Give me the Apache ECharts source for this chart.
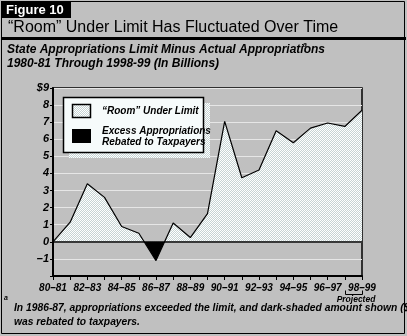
<!DOCTYPE html>
<html><head><meta charset="utf-8">
<script src="https://cdn.jsdelivr.net/npm/echarts@6/dist/echarts.min.js"></script>
<style>html,body{margin:0;padding:0;background:#c0c0c0}#c{width:407px;height:336px}</style>
</head><body><div id="c"></div>
<script>
var years = ['80–81','81–82','82–83','83–84','84–85','85–86','86–87','87–88','88–89','89–90','90–91','91–92','92–93','93–94','94–95','95–96','96–97','97–98','98–99'];
var roomValues = [0, 1.15, 3.4, 2.6, 0.9, 0.5, -1.1, 1.1, 0.25, 1.65, 7.05, 3.75, 4.2, 6.5, 5.8, 6.65, 6.95, 6.75, 7.7];
var yMin = -2, yMax = 9, yStep = 1;

var F = 'Liberation Sans';
var pc = document.createElement('canvas'); pc.width = 2; pc.height = 2;
var px = pc.getContext('2d');
px.fillStyle = '#ffffff'; px.fillRect(0,0,2,2);
px.fillStyle = '#c6d4d4'; px.fillRect(1,0,1,1); px.fillRect(0,1,1,1);
var pattern = {image: pc, repeat: 'repeat'};

var chart = echarts.init(document.getElementById('c'));
var bi = {fontFamily: F, fontWeight: 'bold', fontStyle: 'italic', fill: '#000'};
function txt(x, y, s, size, extra) {
  var st = Object.assign({}, bi, {x: x, y: y, text: s, fontSize: size, verticalAlign: 'middle'}, extra || {});
  return {type: 'text', style: st, z: 10};
}
chart.setOption({
  animation: false,
  backgroundColor: '#c0c0c0',
  grid: {left: 53, right: 45, top: 88, bottom: 60, show: true, borderColor: '#000', borderWidth: 1.5, backgroundColor: 'transparent'},
  xAxis: {
    type: 'category', data: years, boundaryGap: false,
    axisLine: {onZero: false, lineStyle: {color: '#000', width: 2}},
    axisTick: {show: true, interval: 0, length: 4, lineStyle: {color: '#000'}},
    axisLabel: {interval: 1, color: '#000', fontFamily: F, fontWeight: 'bold', fontStyle: 'italic', fontSize: 10, margin: 7},
    splitLine: {show: false}
  },
  yAxis: {
    type: 'value', min: yMin, max: yMax, interval: yStep,
    axisLine: {show: true, lineStyle: {color: '#000', width: 2}},
    axisTick: {show: true, length: 3, lineStyle: {color: '#000'}},
    axisLabel: {color: '#000', fontFamily: F, fontWeight: 'bold', fontStyle: 'italic', fontSize: 11, margin: 4,
      formatter: function (v) { if (v === yMin) return ''; if (v === yMax) return '$' + v; return v < 0 ? '–' + Math.abs(v) : String(v); }},
    splitLine: {show: true, lineStyle: {color: '#e6e6e6', width: 1}}
  },
  visualMap: {show: false, type: 'piecewise', dimension: 1, seriesIndex: 1,
    pieces: [{gte: -50, lt: 0, color: '#000'}, {gte: 0, lte: 50, color: 'rgba(0,0,0,0)'}]},
  series: [
    {type: 'line', data: roomValues, symbol: 'none', z: 2,
      lineStyle: {color: '#000', width: 1.2}, areaStyle: {color: pattern, opacity: 1}},
    {type: 'line', data: roomValues, symbol: 'none', z: 3,
      lineStyle: {width: 0, opacity: 0}, areaStyle: {opacity: 1},
      markLine: {silent: true, symbol: 'none', label: {show: false},
        lineStyle: {color: '#000', width: 1.5, type: 'solid'}, data: [{yAxis: 0}]}}
  ],
  graphic: [
    {type: 'rect', shape: {x: 1.5, y: 1.5, width: 403, height: 332}, style: {fill: 'none', stroke: '#000', lineWidth: 1}, z: 1},
    {type: 'rect', shape: {x: 1, y: 1, width: 70, height: 17}, style: {fill: '#000'}, z: 10},
    txt(6, 10, 'Figure 10', 13, {fill: '#fff', fontStyle: 'normal'}),
    txt(8, 28, '“Room” Under Limit Has Fluctuated Over Time', 16, {fontWeight: 'normal', fontStyle: 'normal'}),
    {type: 'rect', shape: {x: 1, y: 37, width: 405, height: 3}, style: {fill: '#000'}, z: 10},
    txt(7, 50, 'State Appropriations Limit Minus Actual Appropriations', 12),
    txt(303, 45, 'a', 7),
    txt(7, 64, '1980-81 Through 1998-99 (In Billions)', 12),
    {type: 'rect', shape: {x: 69, y: 103, width: 141, height: 55}, style: {fill: pattern}, z: 10},
    {type: 'rect', shape: {x: 63.5, y: 97.5, width: 140, height: 55}, style: {fill: '#f6fbfb', stroke: '#000', lineWidth: 1.5}, z: 11},
    {type: 'rect', shape: {x: 72.5, y: 104.5, width: 18, height: 13}, style: {fill: pattern, stroke: '#000', lineWidth: 1.5}, z: 12},
    {type: 'rect', shape: {x: 72, y: 129, width: 19, height: 14}, style: {fill: '#000'}, z: 12},
    Object.assign(txt(102, 111, '“Room” Under Limit', 10), {z: 12}),
    Object.assign(txt(102, 131, 'Excess Appropriations', 10), {z: 12}),
    Object.assign(txt(102, 142, 'Rebated to Taxpayers', 10), {z: 12}),
    {type: 'polyline', shape: {points: [[345.5, 290.5], [345.5, 294.5], [362.5, 294.5], [362.5, 290.5]]}, style: {stroke: '#000', lineWidth: 1, fill: 'none'}, z: 10},
    txt(356, 299.5, 'Projected', 8.5, {align: 'center'}),
    txt(4, 298, 'a', 7),
    txt(14, 308, 'In 1986-87, appropriations exceeded the limit, and dark-shaded amount shown ($1.1 billion)', 10.3),
    txt(14, 322, 'was rebated to taxpayers.', 10.3)
  ]
});
</script></body></html>
